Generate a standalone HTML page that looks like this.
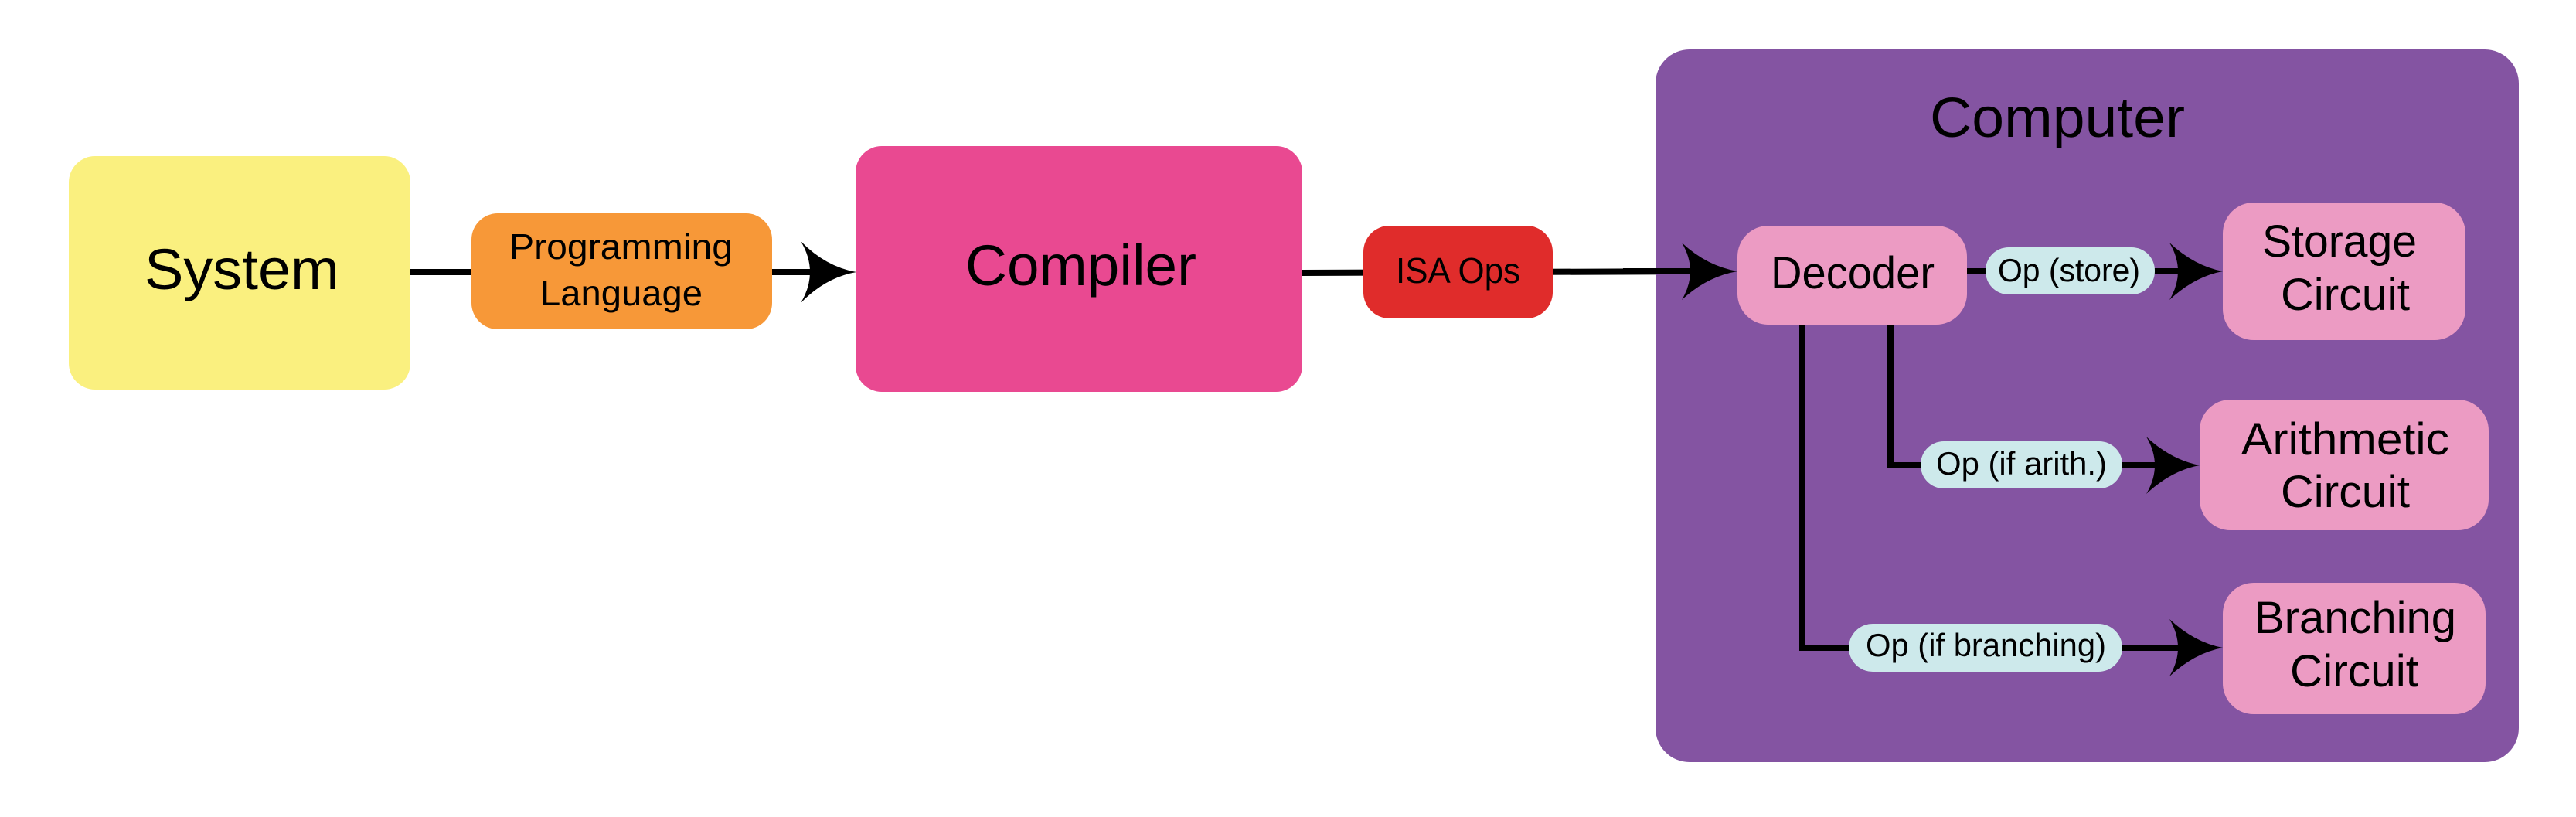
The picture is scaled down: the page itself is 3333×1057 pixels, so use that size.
<!DOCTYPE html>
<html><head><meta charset="utf-8"><style>html,body{margin:0;padding:0;background:#fff}svg{display:block}</style></head>
<body>
<svg width="3333" height="1057" viewBox="0 0 3333 1057" xmlns="http://www.w3.org/2000/svg" font-family="'Liberation Sans Narrow','Liberation Sans',sans-serif" fill="#000">
<line x1="531" y1="352" x2="1070" y2="352" stroke="#000" stroke-width="8"/>
<line x1="1685" y1="353" x2="2215" y2="351" stroke="#000" stroke-width="8"/>
<rect x="89" y="202" width="442" height="302" rx="34" fill="#FAF07F"/>
<rect x="610" y="276" width="389" height="150" rx="34" fill="#F79838"/>
<path d="M1036,312 Q1068,345 1108,352 Q1068,359 1036,392 Q1060,352 1036,312Z"/>
<rect x="1107" y="189" width="578" height="318" rx="34" fill="#E94991"/>
<rect x="1764" y="292" width="245" height="120" rx="34" fill="#E02C2B"/>
<rect x="2142" y="64" width="1117" height="922" rx="44" fill="#8454A2"/>
<line x1="2100" y1="351" x2="2215" y2="351" stroke="#000" stroke-width="8"/>
<path d="M2176,314 Q2208,344 2248,351 Q2208,358 2176,388 Q2198,351 2176,314Z"/>
<line x1="2545" y1="351" x2="2840" y2="351" stroke="#000" stroke-width="8"/>
<path d="M2807,314 Q2839,344 2876,351 Q2839,358 2807,388 Q2829,351 2807,314Z"/>
<polyline points="2446,420 2446,602 2810,602" fill="none" stroke="#000" stroke-width="8"/>
<path d="M2777,565 Q2809,595 2846,602 Q2809,609 2777,639 Q2799,602 2777,565Z"/>
<polyline points="2332,420 2332,838 2840,838" fill="none" stroke="#000" stroke-width="8"/>
<path d="M2807,801 Q2839,831 2876,838 Q2839,845 2807,875 Q2829,838 2807,801Z"/>
<rect x="2248" y="292" width="297" height="128" rx="40" fill="#EC9BC3"/>
<rect x="2876" y="262" width="314" height="178" rx="40" fill="#EC9BC3"/>
<rect x="2846" y="517" width="374" height="169" rx="40" fill="#EC9BC3"/>
<rect x="2876" y="754" width="340" height="170" rx="40" fill="#EC9BC3"/>
<rect x="2569" y="320" width="219" height="61" rx="30" fill="#CDE9EB"/>
<rect x="2485" y="571" width="261" height="61" rx="30" fill="#CDE9EB"/>
<rect x="2392" y="807" width="354" height="62" rx="31" fill="#CDE9EB"/>
<g font-size="74">
<text x="187" y="374" textLength="252" lengthAdjust="spacingAndGlyphs">System</text>
<text x="1249" y="369" textLength="299" lengthAdjust="spacingAndGlyphs">Compiler</text>
</g>
<g font-size="46">
<text x="659" y="335" textLength="289" lengthAdjust="spacingAndGlyphs">Programming</text>
<text x="699" y="395" textLength="210" lengthAdjust="spacingAndGlyphs">Language</text>
<text x="1806" y="366" textLength="161" lengthAdjust="spacingAndGlyphs">ISA Ops</text>
</g>
<text x="2497" y="177" font-size="72" textLength="330" lengthAdjust="spacingAndGlyphs">Computer</text>
<g font-size="58">
<text x="2291" y="373" textLength="212" lengthAdjust="spacingAndGlyphs">Decoder</text>
<text x="2927" y="332" textLength="200" lengthAdjust="spacingAndGlyphs">Storage</text>
<text x="2951" y="401" textLength="167" lengthAdjust="spacingAndGlyphs">Circuit</text>
<text x="2900" y="588" textLength="269" lengthAdjust="spacingAndGlyphs">Arithmetic</text>
<text x="2951" y="656" textLength="167" lengthAdjust="spacingAndGlyphs">Circuit</text>
<text x="2917" y="819" textLength="261" lengthAdjust="spacingAndGlyphs">Branching</text>
<text x="2963" y="888" textLength="166" lengthAdjust="spacingAndGlyphs">Circuit</text>
</g>
<g font-size="42">
<text x="2585" y="364" textLength="184" lengthAdjust="spacingAndGlyphs">Op (store)</text>
<text x="2505" y="614" textLength="221" lengthAdjust="spacingAndGlyphs">Op (if arith.)</text>
<text x="2414" y="849" textLength="311" lengthAdjust="spacingAndGlyphs">Op (if branching)</text>
</g>
</svg>
</body></html>
